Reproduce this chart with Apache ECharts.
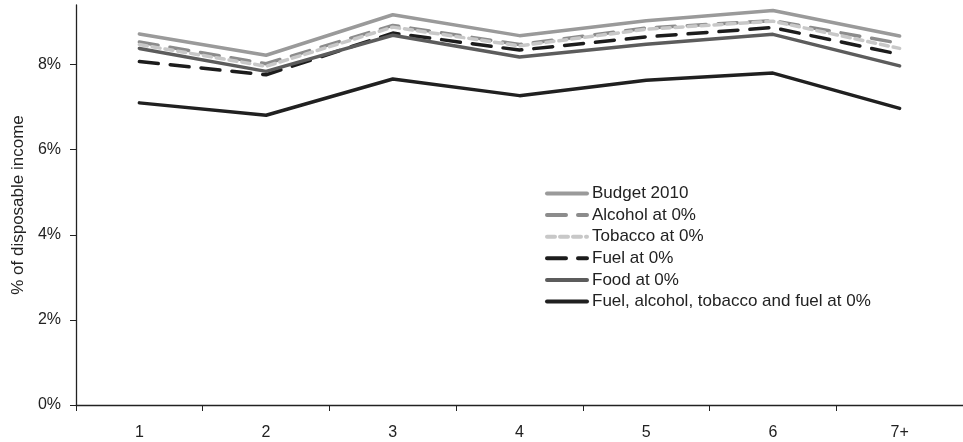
<!DOCTYPE html>
<html>
<head>
<meta charset="utf-8">
<script src="https://cdn.jsdelivr.net/npm/echarts@6/dist/echarts.min.js"></script>
<style>
  html, body { margin: 0; padding: 0; background: #fff; }
  #chart { width: 963px; height: 442px; }
</style>
</head>
<body>
<div id="chart"></div>
<script>
// household size
const categories = ['1', '2', '3', '4', '5', '6', '7+']
const yTicks = [0, 2, 4, 6, 8]

const budget2010 = [8.72, 8.22, 9.17, 8.68, 9.03, 9.27, 8.67]
const alcohol0 = [8.53, 8.02, 8.92, 8.47, 8.86, 9.03, 8.50]
const tobacco0 = [8.47, 7.96, 8.88, 8.44, 8.83, 9.02, 8.38]
const fuel0 = [8.07, 7.76, 8.74, 8.34, 8.65, 8.87, 8.24]
const food0 = [8.38, 7.84, 8.69, 8.18, 8.48, 8.71, 7.97]
const allZero = [7.10, 6.81, 7.66, 7.27, 7.63, 7.80, 6.97]

const chart = echarts.init(document.getElementById('chart'))

function lineSeries(name, data, color, type) {
  return {
    name: name,
    type: 'line',
    data: data,
    symbol: 'none',
    lineStyle: { color: color, width: 3.5, type: type, cap: 'round' },
    itemStyle: { color: color },
    animation: false
  }
}

const axisFont = 'Liberation Sans, Arial, sans-serif'

const option = {
  backgroundColor: '#fff',
  textStyle: { fontFamily: 'Liberation Sans, Arial, sans-serif' },
  grid: { left: 76, right: -2, top: 5, bottom: 37 },
  legend: {
    orient: 'vertical',
    left: 540,
    top: 180,
    itemWidth: 40,
    itemHeight: 14,
    itemGap: 4.6,
    itemStyle: { opacity: 0 },
    lineStyle: { width: 4, cap: 'round' },
    textStyle: { fontSize: 17, color: '#222' }
  },
  xAxis: {
    type: 'category',
    data: categories,
    boundaryGap: true,
    axisLine: { lineStyle: { color: '#222', width: 1.3 } },
    axisTick: { show: true, length: 6, lineStyle: { color: '#222' } },
    axisLabel: { color: '#222', fontSize: 16, fontFamily: axisFont, margin: 20 }
  },
  yAxis: {
    type: 'value',
    min: 0,
    max: 9.4,
    name: '% of disposable income',
    nameLocation: 'middle',
    nameGap: 45,
    nameRotate: 90,
    nameTextStyle: { color: '#222', fontSize: 17, fontFamily: axisFont },
    splitLine: { show: false },
    axisLine: { show: true, lineStyle: { color: '#222', width: 1.3 } },
    axisTick: { show: true, length: 6, customValues: yTicks, lineStyle: { color: '#222' } },
    axisLabel: {
      color: '#222', fontSize: 16, margin: 15,
      fontFamily: axisFont,
      customValues: yTicks,
      formatter: '{value}%'
    }
  },
  series: [
    lineSeries('Budget 2010', budget2010, '#9a9a9a', 'solid'),
    lineSeries('Alcohol at 0%', alcohol0, '#8c8c8c', [19, 12]),
    lineSeries('Tobacco at 0%', tobacco0, '#c8c8c8', [8, 5]),
    lineSeries('Fuel at 0%', fuel0, '#1c1c1c', [19, 12]),
    lineSeries('Food at 0%', food0, '#5c5c5c', 'solid'),
    lineSeries('Fuel, alcohol, tobacco and fuel at 0%', allZero, '#202020', 'solid')
  ]
}

chart.setOption(option)
</script>
</body>
</html>
